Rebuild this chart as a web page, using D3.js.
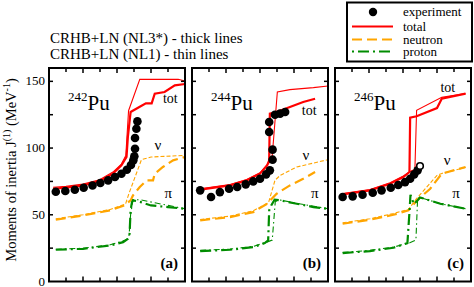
<!DOCTYPE html>
<html>
<head>
<meta charset="utf-8">
<script src="https://cdn.jsdelivr.net/npm/d3@7"></script>
<style>
  body { margin: 0; background: #fff; }
  svg text { font-family: "Liberation Serif", "Times New Roman", Times, serif; }
</style>
</head>
<body>
<main></main>
<script>
// Constants
const WIDTH = 474;
const HEIGHT = 287;
const TOP = 68;
const PH = 213.5;
const PW = 136;
const LEFTS = [49, 192, 335];
const RED = '#ff0000';
const ORANGE = '#ffa500';
const GREEN = '#008c00';
const FONT = 'Liberation Serif, Times New Roman, serif';

// Axis ticks
const xTicks = [0, 0.05, 0.1, 0.15, 0.2, 0.25, 0.3, 0.35, 0.4];
const yTicks = [0, 25, 50, 75, 100, 125, 150];
const yLabels = [0, 50, 100, 150];

// Panel (a) 242Pu  [hbar*omega, J(1)]
const pu242Exp = [[0.020, 67.3], [0.048, 67.8], [0.076, 68.8], [0.102, 70.3], [0.128, 72], [0.151, 73.8], [0.174, 75.8], [0.194, 78.3], [0.213, 80.8], [0.229, 83.8], [0.241, 87.3], [0.248, 90.8], [0.251, 93.8], [0.253, 99.5], [0.253, 107.5], [0.257, 114.5], [0.260, 120]];
const pu242TotNL3 = [[0.012, 69.5], [0.05, 70.3], [0.1, 72], [0.149, 75.2], [0.188, 80.8], [0.213, 87], [0.228, 93.3], [0.232, 108.3], [0.24, 127], [0.267, 131], [0.285, 133.5], [0.302, 133.5], [0.311, 140.8], [0.34, 142], [0.37, 147], [0.4, 148]];
const pu242TotNL1 = [[0.012, 70.6], [0.05, 71.3], [0.1, 73], [0.149, 76.2], [0.188, 82], [0.213, 88], [0.226, 94.5], [0.234, 128], [0.267, 151.5], [0.38, 151.5], [0.4, 150.2]];
const pu242NeuNL3 = [[0.02, 46.3], [0.1, 49.5], [0.18, 53.3], [0.222, 57], [0.24, 60.8], [0.247, 64.5], [0.267, 70.8], [0.287, 75.8], [0.306, 75.8], [0.311, 80.8], [0.335, 85.8], [0.365, 90.8], [0.4, 93.3]];
const pu242NeuNL1 = [[0.02, 47], [0.1, 50], [0.18, 54], [0.225, 58], [0.235, 65.8], [0.272, 91.3], [0.3, 93.3], [0.4, 94.5]];
const pu242ProNL3 = [[0.02, 23.8], [0.1, 24.5], [0.18, 27], [0.218, 29.5], [0.232, 32], [0.237, 35.8], [0.24, 53.3], [0.244, 59.5], [0.247, 60.8], [0.27, 59.5], [0.3, 57], [0.35, 55.8], [0.4, 54.5]];
const pu242ProNL1 = [[0.02, 24.2], [0.1, 24.9], [0.18, 27.5], [0.225, 31], [0.235, 33], [0.24, 50], [0.247, 61.3], [0.267, 61.3], [0.315, 58.8], [0.4, 54.5]];

// Panel (b) 244Pu
const pu244Exp = [[0.024, 68.3], [0.056, 63.3], [0.082, 67], [0.109, 69.5], [0.133, 70.8], [0.158, 72.8], [0.18, 75], [0.2, 77], [0.218, 80.3], [0.229, 83.3], [0.237, 91.3], [0.237, 98.8], [0.227, 112], [0.227, 119.5], [0.244, 125], [0.259, 125.8], [0.274, 127]];
const pu244TotNL3 = [[0.024, 68.8], [0.112, 72], [0.161, 75.8], [0.2, 80.8], [0.221, 87], [0.227, 90.8], [0.229, 125.8], [0.249, 127], [0.288, 130.8], [0.327, 134.5], [0.362, 137]];
const pu244TotNL1 = [[0.024, 69.5], [0.112, 72.6], [0.161, 76.5], [0.2, 81.5], [0.221, 87.5], [0.235, 91], [0.251, 142], [0.288, 143.8], [0.357, 145.3], [0.4, 146.5]];
const pu244NeuNL3 = [[0.024, 45.8], [0.112, 48.3], [0.18, 52], [0.221, 58.3], [0.249, 65.8], [0.288, 72], [0.327, 77], [0.362, 82]];
const pu244NeuNL1 = [[0.024, 46.5], [0.112, 49], [0.18, 53], [0.225, 59], [0.244, 75.8], [0.259, 79.5], [0.308, 85.8], [0.4, 91.3]];
const pu244ProNL3 = [[0.024, 22.8], [0.112, 23.8], [0.18, 25.8], [0.214, 28.8], [0.224, 30.8], [0.227, 53.3], [0.233, 57], [0.243, 61.3], [0.259, 60.8], [0.308, 58.3], [0.357, 55.8], [0.4, 54.5]];
const pu244ProNL1 = [[0.024, 23.3], [0.112, 24.3], [0.18, 26.3], [0.22, 29.5], [0.236, 31], [0.245, 60], [0.26, 61], [0.31, 58.5], [0.4, 54.5]];

// Panel (c) 246Pu (last point is the open circle)
const pu246Exp = [[0.0225, 63.3], [0.052, 63.8], [0.081, 65], [0.111, 66.5], [0.137, 68.3], [0.164, 70.3], [0.186, 72.3], [0.206, 74.5], [0.221, 77], [0.233, 80.3], [0.243, 83.3], [0.25, 86.5]];
const pu246TotNL3 = [[0.0225, 65.3], [0.103, 68.3], [0.162, 73.3], [0.201, 78.3], [0.219, 82], [0.221, 122.8], [0.24, 123.8], [0.3, 130], [0.314, 137], [0.384, 140.8]];
const pu246TotNL1 = [[0.0225, 66], [0.103, 69], [0.162, 74], [0.201, 79], [0.225, 83], [0.235, 84], [0.24, 128.3], [0.314, 138], [0.384, 140.8]];
const pu246NeuNL3 = [[0.0225, 43.3], [0.103, 46.3], [0.172, 50], [0.216, 53.3], [0.241, 60.8], [0.28, 69.5], [0.314, 80.8], [0.324, 81.5], [0.384, 85.8]];
const pu246NeuNL1 = [[0.0225, 44], [0.103, 47], [0.172, 51], [0.216, 54], [0.238, 61.5], [0.3, 79.5], [0.314, 81], [0.384, 85.5]];
const pu246ProNL3 = [[0.0225, 21.3], [0.103, 22.8], [0.172, 25.3], [0.213, 28.8], [0.219, 52], [0.222, 65], [0.232, 58], [0.243, 60.8], [0.25, 63], [0.31, 58.3], [0.384, 54.5]];
const pu246ProNL1 = [[0.0225, 21.8], [0.103, 23.3], [0.172, 25.8], [0.22, 29], [0.238, 31], [0.243, 62], [0.25, 63], [0.31, 58.3], [0.384, 54.5]];

const panels = [
  { mass: '242', tag: '(a)', exp: pu242Exp, open: 0, tot: [pu242TotNL3, pu242TotNL1], neu: [pu242NeuNL3, pu242NeuNL1], pro: [pu242ProNL3, pu242ProNL1], totPos: [0.335, 103], nuPos: [0.31, 150], piPos: [0.34, 198] },
  { mass: '244', tag: '(b)', exp: pu244Exp, open: 0, tot: [pu244TotNL3, pu244TotNL1], neu: [pu244NeuNL3, pu244NeuNL1], pro: [pu244ProNL3, pu244ProNL1], totPos: [0.323, 115], nuPos: [0.325, 160], piPos: [0.35, 198] },
  { mass: '246', tag: '(c)', exp: pu246Exp, open: 1, tot: [pu246TotNL3, pu246TotNL1], neu: [pu246NeuNL3, pu246NeuNL1], pro: [pu246ProNL3, pu246ProNL1], totPos: [0.31, 92], nuPos: [0.32, 165], piPos: [0.345, 198] },
];

const x = d3.scaleLinear([0, 0.4], [0, PW]);
const y = d3.scaleLinear([0, 160], [PH, 0]);
const line = d3.line().x((d) => x(d[0])).y((d) => y(d[1]));

const svg = d3.select('main').append('svg')
  .attr('width', WIDTH)
  .attr('height', HEIGHT)
  .attr('font-family', FONT);

// Draw one panel
function drawPanel(p, i) {
  const g = svg.append('g').attr('transform', `translate(${LEFTS[i]},${TOP})`);

  // curves: thick = NL3*, thin = NL1
  const styles = [
    { key: 'neu', color: ORANGE, dash: ['10,5', '4,2'] },
    { key: 'pro', color: GREEN, dash: ['11,4,2,4', '6,3,1.5,3'] },
    { key: 'tot', color: RED, dash: [null, null] },
  ];
  styles.forEach((s) => {
    p[s.key].forEach((data, k) => {
      g.append('path')
        .datum(data)
        .attr('d', line)
        .attr('fill', 'none')
        .attr('stroke', s.color)
        .attr('stroke-width', k === 0 ? 2.2 : 1.1)
        .attr('stroke-dasharray', s.dash[k]);
    });
  });

  // experiment
  const isOpen = (j) => p.open && j === p.exp.length - 1;
  g.selectAll('circle')
    .data(p.exp)
    .enter()
    .append('circle')
    .attr('cx', (d) => x(d[0]))
    .attr('cy', (d) => y(d[1]))
    .attr('r', (d, j) => (isOpen(j) ? 3.3 : 4.3))
    .attr('fill', (d, j) => (isOpen(j) ? '#fff' : '#000'))
    .attr('stroke', '#000')
    .attr('stroke-width', (d, j) => (isOpen(j) ? 1.6 : 0));

  // ticks (inward, all four sides)
  const tk = g.append('g').attr('stroke', '#000').attr('stroke-width', 1.5);
  xTicks.slice(1, -1).forEach((t, j) => {
    const len = j % 2 === 1 ? 5 : 4;
    tk.append('line').attr('x1', x(t)).attr('x2', x(t)).attr('y1', 0).attr('y2', len);
    tk.append('line').attr('x1', x(t)).attr('x2', x(t)).attr('y1', PH).attr('y2', PH - len);
  });
  yTicks.slice(1).forEach((t) => {
    tk.append('line').attr('x1', 0).attr('x2', 4).attr('y1', y(t)).attr('y2', y(t));
    tk.append('line').attr('x1', PW).attr('x2', PW - 4).attr('y1', y(t)).attr('y2', y(t));
  });

  // frame
  g.append('rect').attr('width', PW).attr('height', PH)
    .attr('fill', 'none').attr('stroke', '#000').attr('stroke-width', 2);

  // nucleus label
  const lab = g.append('text').attr('x', 19).attr('y', 42).attr('font-size', 21);
  lab.append('tspan').text(p.mass).attr('font-size', 13).attr('dy', -9);
  lab.append('tspan').text('Pu').attr('dy', 9);

  g.append('text').attr('x', x(p.totPos[0])).attr('y', p.totPos[1] - TOP)
    .attr('font-size', 14).text('tot');
  g.append('text').attr('x', x(p.nuPos[0])).attr('y', p.nuPos[1] - TOP)
    .attr('font-size', 15).text('ν');
  g.append('text').attr('x', x(p.piPos[0])).attr('y', p.piPos[1] - TOP)
    .attr('font-size', 15).text('π');
  g.append('text').attr('x', PW - 7).attr('y', PH - 14)
    .attr('text-anchor', 'end').attr('font-size', 15).attr('font-weight', 'bold').text(p.tag);
}

panels.forEach(drawPanel);

// y tick labels
svg.append('g').selectAll('text')
  .data(yLabels)
  .enter()
  .append('text')
  .attr('x', 45)
  .attr('y', (d) => TOP + y(d) + 4)
  .attr('text-anchor', 'end')
  .attr('font-size', 13)
  .text((d) => d);

// y axis title
const yt = svg.append('text')
  .attr('transform', 'translate(16,170) rotate(-90)')
  .attr('text-anchor', 'middle')
  .attr('font-size', 14.5);
yt.append('tspan').text('Moments  of  inertia  J');
yt.append('tspan').text('(1)').attr('font-size', 10).attr('dy', -6);
yt.append('tspan').text(' (MeV').attr('dy', 6);
yt.append('tspan').text('-1').attr('font-size', 10).attr('dy', -6);
yt.append('tspan').text(')').attr('dy', 6);

// header
svg.append('text').attr('x', 50).attr('y', 43).attr('font-size', 15).text('CRHB+LN (NL3*) - thick lines');
svg.append('text').attr('x', 50).attr('y', 59).attr('font-size', 15).text('CRHB+LN (NL1) - thin lines');

// Legend
function createLegend() {
  const lg = svg.append('g').attr('id', 'legend');
  lg.append('rect').attr('x', 347).attr('y', 2.5).attr('width', 125).attr('height', 59)
    .attr('fill', '#fff').attr('stroke', '#000').attr('stroke-width', 2);
  lg.append('circle').attr('cx', 373).attr('cy', 12).attr('r', 4.2).attr('fill', '#000');
  const items = [
    { label: 'experiment', y: 12 },
    { label: 'total', y: 26.5, color: RED, dash: null },
    { label: 'neutron', y: 39.5, color: ORANGE, dash: '10,5' },
    { label: 'proton', y: 51.5, color: GREEN, dash: '2,4,11,4' },
  ];
  items.forEach((it) => {
    if (it.color) {
      lg.append('line').attr('x1', 352).attr('x2', 393).attr('y1', it.y).attr('y2', it.y)
        .attr('stroke', it.color).attr('stroke-width', 2.2).attr('stroke-dasharray', it.dash);
    }
    lg.append('text').attr('x', 403).attr('y', it.y + 4).attr('font-size', 13).text(it.label);
  });
}

createLegend();
</script>
</body>
</html>
